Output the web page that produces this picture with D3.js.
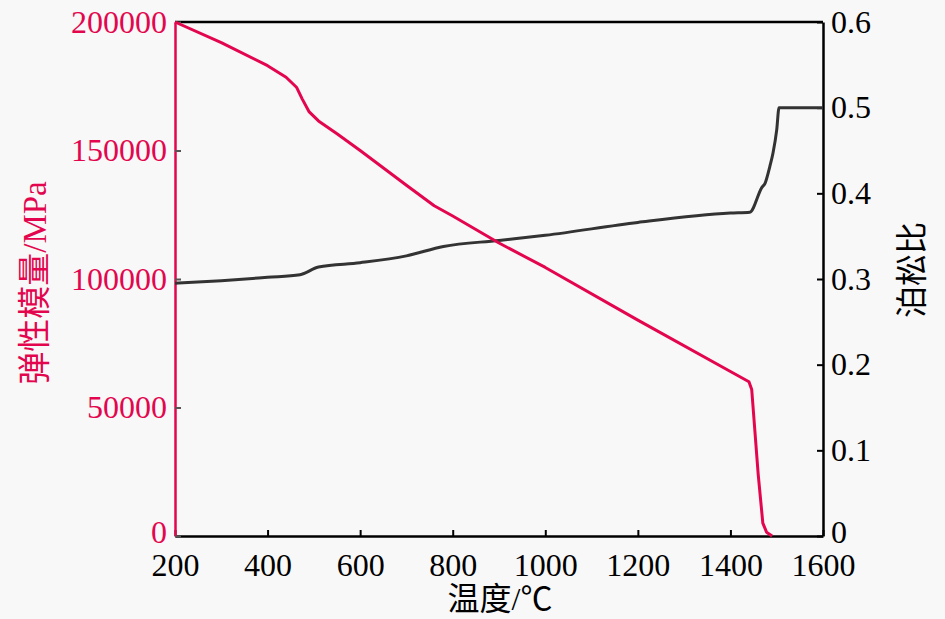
<!DOCTYPE html>
<html><head><meta charset="utf-8">
<script src="https://cdn.jsdelivr.net/npm/d3@7"></script>
<style>
html,body{margin:0;padding:0;background:#f8f8f8;}
svg{display:block;}
</style></head>
<body>
<script>
// Elastic modulus (MPa) vs temperature
const tempE = [200, 300, 400, 440, 463, 475, 490, 510, 550, 600, 700, 760, 800, 900, 1000, 1200, 1400, 1440, 1446, 1460, 1470, 1478, 1490];
const modulusE = [200000, 192000, 183000, 178500, 174500, 170000, 165000, 161500, 156500, 150000, 136500, 128500, 124500, 114000, 104500, 84000, 64000, 60000, 57000, 24000, 5000, 1500, 0];
// Poisson's ratio vs temperature
const tempP = [200, 300, 400, 470, 510, 600, 700, 780, 900, 1000, 1200, 1400, 1442, 1468, 1475, 1485, 1492, 1500, 1505, 1600];
const poissonP = [0.295, 0.298, 0.302, 0.305, 0.314, 0.319, 0.327, 0.338, 0.345, 0.351, 0.366, 0.377, 0.378, 0.407, 0.412, 0.431, 0.447, 0.474, 0.5, 0.5];
const xTicks = [200, 400, 600, 800, 1000, 1200, 1400, 1600];
const leftTicks = [0, 50000, 100000, 150000, 200000];
const rightTicks = [0, 0.1, 0.2, 0.3, 0.4, 0.5, 0.6];

const W = 945, H = 619;
const m = {left: 175, right: 122, top: 22, bottom: 83};
const RED = "#e3064f", DARK = "#333333";
const serif = "'Liberation Serif','Times New Roman',serif";
const cjk = "'Liberation Serif','Noto Sans CJK SC',serif";

const svg = d3.select("body").append("svg").attr("width", W).attr("height", H)
  .style("background", "#f8f8f8");

const x = d3.scaleLinear().domain([200, 1600]).range([m.left, W - m.right]);
const yL = d3.scaleLinear().domain([0, 200000]).range([H - m.bottom, m.top]);
const yR = d3.scaleLinear().domain([0, 0.6]).range([H - m.bottom, m.top]);

// top frame line
svg.append("line").attr("x1", x(200)).attr("x2", x(1600)).attr("y1", m.top).attr("y2", m.top)
  .attr("stroke", "#000").attr("stroke-width", 2.5);

// bottom axis
const gx = svg.append("g").attr("transform", `translate(0,${H - m.bottom})`)
  .call(d3.axisBottom(x).tickValues(xTicks).tickFormat(d3.format("d")).tickSizeInner(-6).tickSizeOuter(0).tickPadding(17));
gx.select(".domain").attr("stroke", "#000").attr("stroke-width", 2.5);
gx.selectAll(".tick line").attr("stroke", "#000").attr("stroke-width", 2);
gx.selectAll(".tick text").attr("fill", "#000").style("font-family", serif).style("font-size", "32px");

// left axis
const gl = svg.append("g").attr("transform", `translate(${m.left},0)`)
  .call(d3.axisLeft(yL).tickValues(leftTicks).tickFormat(d3.format("d")).tickSizeInner(-6).tickSizeOuter(0).tickPadding(8));
gl.select(".domain").attr("stroke", RED).attr("stroke-width", 2.5);
gl.selectAll(".tick line").attr("stroke", "#555").attr("stroke-width", 2);
gl.selectAll(".tick text").attr("fill", RED).style("font-family", serif).style("font-size", "32px");
gl.selectAll(".tick").filter(d => d === 0).select("text").attr("dy", "0.2em");

// right axis
const gr = svg.append("g").attr("transform", `translate(${W - m.right},0)`)
  .call(d3.axisRight(yR).tickValues(rightTicks).tickFormat(d => d === 0 ? "0" : d3.format(".1f")(d)).tickSizeInner(-6).tickSizeOuter(0).tickPadding(8));
gr.select(".domain").attr("stroke", "#000").attr("stroke-width", 2.5);
gr.selectAll(".tick line").attr("stroke", "#000").attr("stroke-width", 2);
gr.selectAll(".tick text").attr("fill", "#000").style("font-family", serif).style("font-size", "32px");
gr.selectAll(".tick").filter(d => d === 0).select("text").attr("dy", "0.2em");

// lines
const lineE = d3.line().x((d, i) => x(tempE[i])).y(d => yL(d)).curve(d3.curveLinear);
const lineP = d3.line().x((d, i) => x(tempP[i])).y(d => yR(d)).curve(d3.curveMonotoneX);

svg.append("path").datum(poissonP).attr("d", lineP)
  .attr("fill", "none").attr("stroke", DARK).attr("stroke-width", 3).attr("stroke-linejoin", "round");
svg.append("path").datum(modulusE).attr("d", lineE)
  .attr("fill", "none").attr("stroke", RED).attr("stroke-width", 3).attr("stroke-linejoin", "round");

// axis titles
svg.append("text").attr("x", 500).attr("y", 610).attr("text-anchor", "middle")
  .style("font-family", cjk).style("font-size", "32px").attr("fill", "#000").text("温度/℃");
svg.append("text").attr("transform", `translate(46,283) rotate(-90)`)
  .attr("text-anchor", "middle").style("font-family", cjk).style("font-size", "33px").attr("fill", RED)
  .text("弹性模量/MPa");
svg.append("text").attr("transform", `translate(923,270) rotate(-90)`)
  .attr("text-anchor", "middle").style("font-family", cjk).style("font-size", "32px").attr("fill", "#000")
  .text("泊松比");
</script>
</body></html>
